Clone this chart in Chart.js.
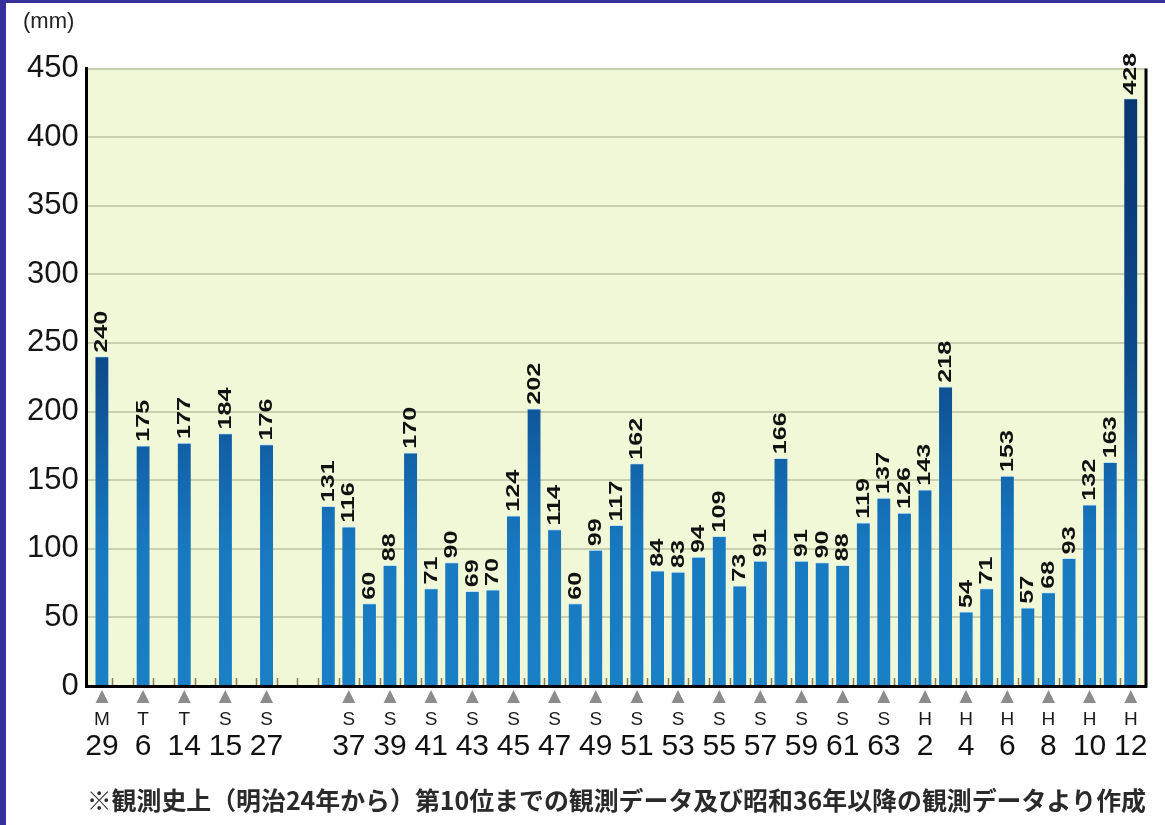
<!DOCTYPE html>
<html lang="ja">
<head>
<meta charset="utf-8">
<title>年間最大日降水量</title>
<script src="https://cdn.jsdelivr.net/npm/chart.js@4/dist/chart.umd.min.js"></script>
<style>
  html, body { margin: 0; padding: 0; background: #ffffff; }
  #wrap { position: relative; width: 1165px; height: 825px; overflow: hidden; }
  #wrap canvas { position: absolute; left: 0; top: 0; }
  #frame {
    position: absolute; left: 0; top: 0; right: 0; bottom: 0;
    border-left: 6px solid #372f9c; border-top: 3px solid #372f9c;
    pointer-events: none;
  }
</style>
</head>
<body>
<div id="wrap">
  <canvas id="chart" width="1165" height="825"></canvas>
  <div id="frame"></div>
</div>
<script>
// Historic top years (from Meiji 24 onward)
const earlyYears  = ['M29', 'T6', 'T14', 'S15', 'S27'];
const earlyValues = [240, 175, 177, 184, 176];

// Every year from Showa 36 to Heisei 12
const recentYears = [
  'S36', 'S37', 'S38', 'S39', 'S40', 'S41', 'S42', 'S43', 'S44', 'S45',
  'S46', 'S47', 'S48', 'S49', 'S50', 'S51', 'S52', 'S53', 'S54', 'S55',
  'S56', 'S57', 'S58', 'S59', 'S60', 'S61', 'S62', 'S63',
  'H1', 'H2', 'H3', 'H4', 'H5', 'H6', 'H7', 'H8', 'H9', 'H10', 'H11', 'H12'
];
const recentValues = [
  131, 116, 60, 88, 170, 71, 90, 69, 70, 124,
  202, 114, 60, 99, 117, 162, 84, 83, 94, 109,
  73, 91, 166, 91, 90, 88, 119, 137,
  126, 143, 218, 54, 71, 153, 57, 68, 93, 132, 163, 428
];

// Years that get an axis label underneath
const labeledYears = [
  'M29', 'T6', 'T14', 'S15', 'S27',
  'S37', 'S39', 'S41', 'S43', 'S45', 'S47', 'S49', 'S51', 'S53', 'S55',
  'S57', 'S59', 'S61', 'S63', 'H2', 'H4', 'H6', 'H8', 'H10', 'H12'
];

const yTicks = [0, 50, 100, 150, 200, 250, 300, 350, 400, 450];
const unitLabel = '(mm)';
const footnote = '※観測史上（明治24年から）第10位までの観測データ及び昭和36年以降の観測データより作成';

// Slot layout: early years take every other slot, then a gap, then one slot per year
const yearSlot = {};
earlyYears.forEach((y, i) => { yearSlot[y] = i * 2; });
recentYears.forEach((y, i) => { yearSlot[y] = 11 + i; });
const lastSlot = 11 + recentYears.length - 1;

const points = [
  ...earlyYears.map((y, i) => ({ x: yearSlot[y], y: earlyValues[i] })),
  ...recentYears.map((y, i) => ({ x: yearSlot[y], y: recentValues[i] }))
];

const slotToYear = {};
labeledYears.forEach(y => { slotToYear[yearSlot[y]] = y; });
const labelSlots = labeledYears.map(y => yearSlot[y]);

const X_MIN = -0.74, X_MAX = lastSlot + 0.74;
const NUM_FONT = '"Liberation Sans", Arial, sans-serif';

function setLabelTicks(axis) {
  axis.ticks = labelSlots.map(v => ({ value: v }));
}

function barGradient(ctx) {
  const area = ctx.chart.chartArea;
  if (!area) return '#1878c0';
  const g = ctx.chart.ctx.createLinearGradient(0, area.bottom, 0, area.top);
  g.addColorStop(0.00, '#1a80c6');
  g.addColorStop(0.22, '#1879c0');
  g.addColorStop(0.33, '#1469b0');
  g.addColorStop(0.45, '#0f5698');
  g.addColorStop(0.53, '#0d4b8c');
  g.addColorStop(0.70, '#0b4080');
  g.addColorStop(1.00, '#0a3470');
  return g;
}

// Plot background, small boundary ticks on the baseline and the right frame line
const plotDecor = {
  id: 'plotDecor',
  beforeDraw(chart) {
    const { ctx, chartArea: a } = chart;
    ctx.save();
    ctx.fillStyle = '#ffffff';
    ctx.fillRect(0, 0, chart.width, chart.height);
    ctx.fillStyle = '#f0f8d8';
    ctx.fillRect(a.left, a.top, a.right - a.left, a.bottom - a.top);
    ctx.restore();
  },
  afterDatasetsDraw(chart) {
    const { ctx, chartArea: a } = chart;
    const xs = chart.scales.x;
    ctx.save();
    ctx.strokeStyle = '#8a7c55';
    ctx.lineWidth = 1.5;
    for (let k = 0; k < lastSlot; k++) {
      const px = Math.round(xs.getPixelForValue(k + 0.5)) + 0.5;
      ctx.beginPath();
      ctx.moveTo(px, a.bottom - 1);
      ctx.lineTo(px, a.bottom - 8);
      ctx.stroke();
    }
    ctx.strokeStyle = '#000000';
    ctx.lineWidth = 3;
    ctx.beginPath();
    ctx.moveTo(a.right, a.top);
    ctx.lineTo(a.right, a.bottom + 1.5);
    ctx.stroke();
    ctx.restore();
  }
};

// Vertical value labels above each bar
const valueLabels = {
  id: 'valueLabels',
  afterDatasetsDraw(chart) {
    const { ctx } = chart;
    const meta = chart.getDatasetMeta(0);
    ctx.save();
    ctx.font = 'bold 18px ' + NUM_FONT;
    ctx.fillStyle = '#111111';
    ctx.textAlign = 'left';
    ctx.textBaseline = 'middle';
    meta.data.forEach((bar, i) => {
      const v = chart.data.datasets[0].data[i].y;
      ctx.save();
      ctx.translate(bar.x + 0.5, bar.y - 4);
      ctx.rotate(-Math.PI / 2);
      ctx.scale(1.4, 1);
      ctx.fillText(String(v), 0, 0);
      ctx.restore();
    });
    ctx.restore();
  }
};

new Chart(document.getElementById('chart'), {
  type: 'bar',
  data: {
    datasets: [{
      data: points,
      backgroundColor: barGradient,
      borderColor: '#c4e6f4',
      borderWidth: { top: 1, left: 0, right: 0, bottom: 0 },
      borderSkipped: 'start',
      barThickness: 13
    }]
  },
  options: {
    responsive: false,
    animation: false,
    layout: { padding: { left: 23, right: 19, top: 0, bottom: 0 } },
    plugins: {
      legend: { display: false },
      tooltip: { enabled: false },
      title: {
        display: true,
        text: unitLabel,
        align: 'start',
        color: '#222222',
        font: { family: NUM_FONT, size: 22, weight: 'normal' },
        padding: { top: 8.8, bottom: 33.3 }
      }
    },
    scales: {
      y: {
        min: 0,
        max: 450,
        afterBuildTicks(axis) { axis.ticks = yTicks.map(v => ({ value: v })); },
        afterFit(axis) { axis.width = 63.7; },
        border: { display: true, color: '#000000', width: 3 },
        grid: { color: '#c9d0ae', lineWidth: 2, drawTicks: false },
        ticks: {
          padding: 8,
          color: '#151515',
          font: { family: NUM_FONT, size: 31 }
        }
      },
      x: {
        type: 'linear',
        min: X_MIN,
        max: X_MAX,
        offset: false,
        afterBuildTicks: setLabelTicks,
        afterFit(axis) { axis.height = 20; },
        border: { display: true, color: '#000000', width: 3 },
        grid: { display: false, drawTicks: false, offset: false },
        ticks: {
          autoSkip: false,
          maxRotation: 0,
          minRotation: 0,
          padding: 0.5,
          color: '#8c8c8c',
          font: { family: '"DejaVu Sans", sans-serif', size: 17 },
          callback: () => '▲'
        }
      },
      era: {
        type: 'linear',
        position: 'bottom',
        min: X_MIN,
        max: X_MAX,
        offset: false,
        afterBuildTicks: setLabelTicks,
        afterFit(axis) { axis.height = 22; },
        border: { display: false },
        grid: { display: false, drawTicks: false, offset: false },
        ticks: {
          autoSkip: false,
          maxRotation: 0,
          minRotation: 0,
          padding: 2,
          color: '#1a1a1a',
          font: { family: NUM_FONT, size: 19 },
          callback: (v) => (slotToYear[v] || '').charAt(0)
        }
      },
      year: {
        type: 'linear',
        position: 'bottom',
        min: X_MIN,
        max: X_MAX,
        offset: false,
        afterBuildTicks: setLabelTicks,
        afterFit(axis) { axis.height = 97; },
        border: { display: false },
        grid: { display: false, drawTicks: false, offset: false },
        ticks: {
          autoSkip: false,
          maxRotation: 0,
          minRotation: 0,
          padding: 1,
          color: '#111111',
          font: { family: NUM_FONT, size: 30 },
          callback: (v) => (slotToYear[v] || '').slice(1)
        },
        title: {
          display: true,
          text: footnote,
          color: '#2a2a2a',
          font: { family: '"Noto Sans CJK JP", sans-serif', size: 25, weight: 'bold' },
          padding: { top: 0, bottom: 10 }
        }
      }
    }
  },
  plugins: [plotDecor, valueLabels]
});
</script>
</body>
</html>
